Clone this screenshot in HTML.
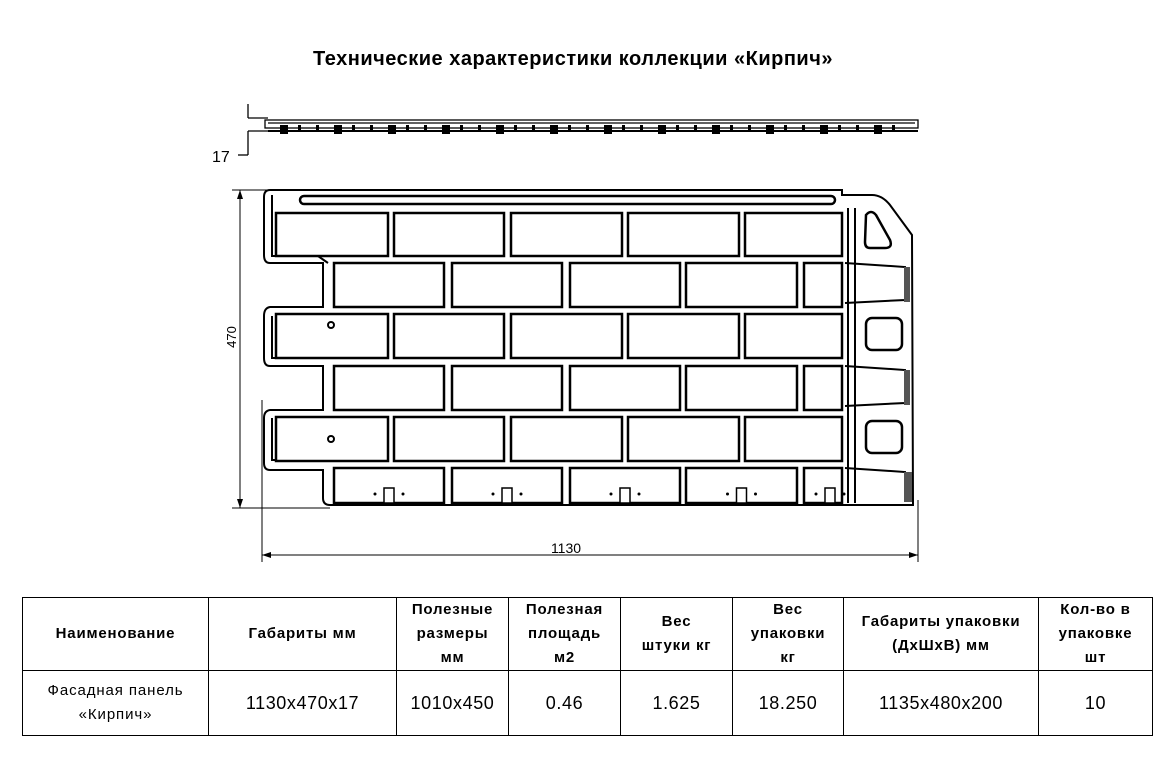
<!DOCTYPE html>
<html><head><meta charset="utf-8"><style>
html,body{margin:0;padding:0;background:#fff;width:1174px;height:779px;overflow:hidden}
svg{position:absolute;left:0;top:0}
table{position:absolute;left:22px;top:597px;border-collapse:collapse;font-family:"Liberation Sans",sans-serif;color:#000}
td{border:1.5px solid #000;text-align:center;vertical-align:middle;padding:0}
.h td{font-weight:bold;font-size:15px;letter-spacing:0.8px;line-height:24px;height:72px}
.d td{font-size:18px;letter-spacing:0.6px;height:64px}
.d td.n{font-size:15px;letter-spacing:0.9px;line-height:24px}
</style></head><body>
<svg width="1174" height="590" viewBox="0 0 1174 590" font-family="Liberation Sans, sans-serif">
<text x="573" y="65" text-anchor="middle" font-size="20" font-weight="bold" letter-spacing="0.5">Технические характеристики коллекции «Кирпич»</text>
<g stroke="#000" fill="none" stroke-width="1.3">
<line x1="248" y1="104" x2="248" y2="118"/><line x1="248" y1="118" x2="268" y2="118"/>
<line x1="248" y1="131" x2="268" y2="131"/><line x1="248" y1="131" x2="248" y2="155"/><line x1="238" y1="155" x2="248" y2="155"/>
<rect x="265" y="120" width="653" height="8"/>
<line x1="268" y1="123" x2="915" y2="123"/>
<line x1="268" y1="131" x2="918" y2="131" stroke-width="2"/>
</g>
<g fill="#000" id="side"></g>
<text x="212" y="162" font-size="16">17</text>
<g stroke="#000" stroke-width="1" fill="none">
<line x1="240" y1="190" x2="240" y2="508"/>
<line x1="232" y1="190" x2="270" y2="190"/>
<line x1="232" y1="508" x2="330" y2="508"/>
<line x1="262" y1="400" x2="262" y2="562"/>
<line x1="918" y1="500" x2="918" y2="562"/>
<line x1="262" y1="555" x2="918" y2="555"/>
</g>
<g fill="#000"><path d="M240 190 l-3 9 h6z"/><path d="M240 508 l-3 -9 h6z"/><path d="M262 555 l9 -3 v6z"/><path d="M918 555 l-9 -3 v6z"/></g>
<text x="236" y="337" font-size="13" transform="rotate(-90 236 337)" text-anchor="middle">470</text>
<text x="566" y="553" font-size="14" text-anchor="middle">1130</text>
<g stroke="#000" fill="none" stroke-width="2">
<path d="M270 190 H842 L842 195 H872 Q882 195 890 205 L912 235 L913 505 H330 Q323 505 323 498 V470 H270 Q264 470 264 463 V418 Q264 411 270 410 H323 V366 H270 Q264 366 264 358 V316 Q264 308 270 307 H323 V263 H270 Q264 263 264 255 V197 Q264 190 270 190Z"/>
<path d="M272 195 V256 H318 L328 263 M272 316 V358 H318 M272 418 V460 H318"/>
<rect x="300" y="196" width="535" height="8" rx="4" stroke-width="2.5"/>
</g>
<g id="bricks" stroke="#000" fill="#fff" stroke-width="2.5"></g>
<g stroke="#000" fill="none" stroke-width="2">
<path d="M866 215 Q871 209 876 215 L890 240 Q893 248 885 248 H870 Q865 248 865 242 Z" stroke-width="2.5"/>
<rect x="866" y="318" width="36" height="32" rx="6" stroke-width="2.5"/>
<rect x="866" y="421" width="36" height="32" rx="6" stroke-width="2.5"/>
<path d="M845 263 L905 267 V300 L845 303"/>
<path d="M845 366 L905 370 V403 L845 406"/>
<path d="M845 468 L905 472 V500"/>
<line x1="848" y1="208" x2="848" y2="503"/><line x1="855" y1="208" x2="855" y2="503"/>
</g>
<g fill="#555"><rect x="904" y="267" width="6" height="35"/><rect x="904" y="370" width="6" height="35"/><rect x="904" y="472" width="8" height="30"/></g>
<circle cx="331" cy="325" r="3" fill="none" stroke="#000" stroke-width="2"/>
<circle cx="331" cy="439" r="3" fill="none" stroke="#000" stroke-width="2"/>
</svg>
<script>
var g=document.getElementById('bricks'),s='';
var A=[[276,388],[394,504],[511,622],[628,739],[745,842]];
var B=[[334,444],[452,562],[570,680],[686,797],[804,842]];
var rows=[[213,256,A],[263,307,B],[314,358,A],[366,410,B],[417,461,A],[468,503,B]];
rows.forEach(function(r,i){r[2].forEach(function(b){s+='<rect x="'+b[0]+'" y="'+r[0]+'" width="'+(b[1]-b[0])+'" height="'+(r[1]-r[0])+'"/>';
 if(i==5){var c=(b[1]-b[0]>60)?(b[0]+b[1])/2:b[0]+26;s+='<rect x="'+(c-5)+'" y="488" width="10" height="15" stroke-width="1.5"/><circle cx="'+(c-14)+'" cy="494" r="1.5" fill="#000" stroke="none"/><circle cx="'+(c+14)+'" cy="494" r="1.5" fill="#000" stroke="none"/>';}
});});
g.innerHTML=s;
var sd=document.getElementById('side'),t='';
for(var x=280;x<905;x+=18){var w=(x%54==10)?8:3;t+='<rect x="'+x+'" y="'+(x%36==0?122:125)+'" width="'+w+'" height="'+(x%54==10?9:5)+'"/>';}
sd.innerHTML=t;
</script>
<table>
<tr class="h"><td style="width:185px">Наименование</td><td style="width:187px">Габариты мм</td><td style="width:111px">Полезные<br>размеры<br>мм</td><td style="width:111px">Полезная<br>площадь<br>м2</td><td style="width:111px">Вес<br>штуки кг</td><td style="width:110px">Вес<br>упаковки<br>кг</td><td style="width:194px">Габариты упаковки<br>(ДхШхВ) мм</td><td style="width:113px">Кол-во в<br>упаковке<br>шт</td></tr>
<tr class="d"><td class="n">Фасадная панель<br>«Кирпич»</td><td>1130x470x17</td><td>1010x450</td><td>0.46</td><td>1.625</td><td>18.250</td><td>1135x480x200</td><td>10</td></tr>
</table>
</body></html>
